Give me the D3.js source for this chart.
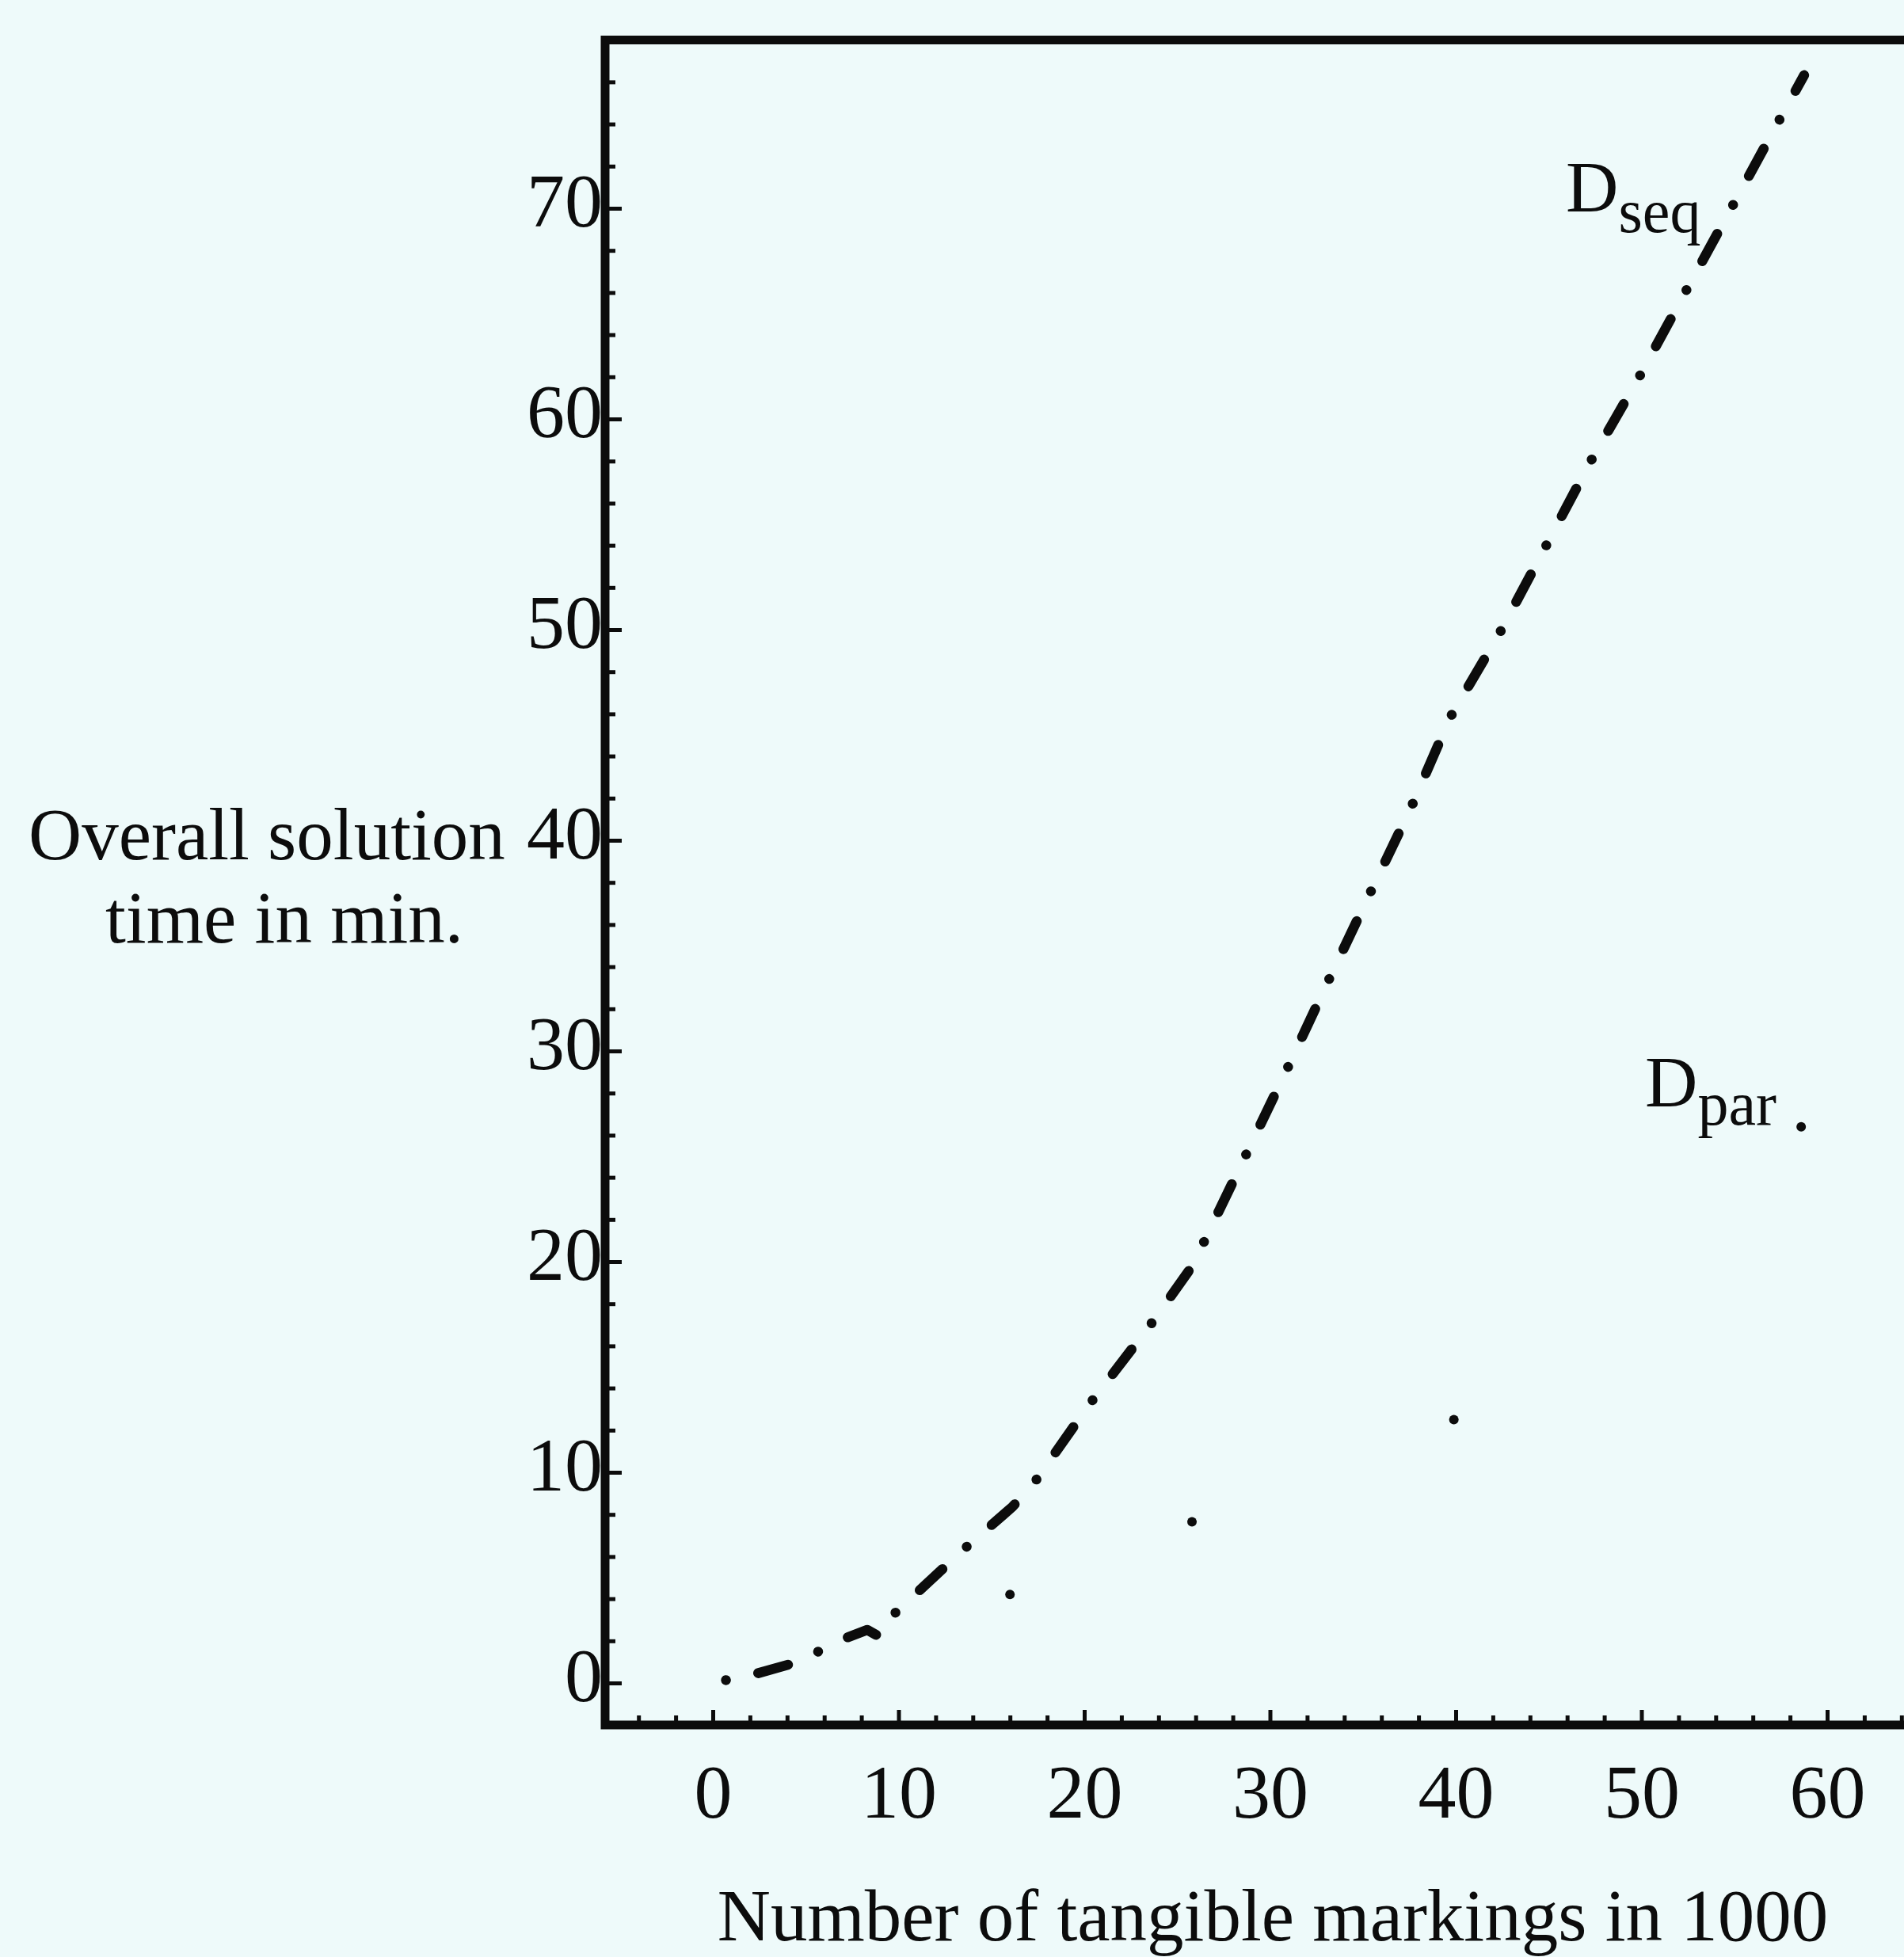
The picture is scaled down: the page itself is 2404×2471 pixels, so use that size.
<!DOCTYPE html>
<html><head><meta charset="utf-8">
<script src="https://cdn.jsdelivr.net/npm/d3@7"></script>
<style>
html,body{margin:0;padding:0;background:#eefafa;}
svg{display:block;}
text{font-family:"Liberation Serif","Times New Roman",serif;fill:#0c0c0c;}
</style></head><body>
<svg id="c" width="2404" height="2471"></svg>
<script>
// ---- data ----
const xTickLabels = [0, 10, 20, 30, 40, 50, 60];
const yTickLabels = [0, 10, 20, 30, 40, 50, 60, 70];
const xMinorTicks = d3.range(-4, 66, 2);
const yMinorTicks = d3.range(0, 78, 2);
const seqX = [-0.55, 0.04, 1.62, 4.78, 6.61, 8.32, 8.98, 9.75, 13.67, 16.12, 17.34, 20.28, 23.62, 25.98, 26.4, 28.65, 30.92, 33.05, 35.35, 37.6, 39.7, 42.36, 44.85, 47.26, 49.89, 52.38, 54.94, 57.43, 58.76];
const seqY = [0.30, 0.04, 0.26, 1.05, 1.95, 2.52, 2.19, 3.27, 6.47, 8.35, 9.55, 13.23, 17.07, 20.0, 20.85, 24.97, 29.14, 33.16, 37.42, 41.56, 45.83, 49.83, 53.96, 57.98, 62.01, 66.05, 70.17, 74.2, 76.32];
const parX = [16.0, 25.8, 39.9, 58.6];
const parY = [4.2, 7.65, 12.5, 26.4];
const xTitle = "Number of tangible markings in 1000";
const yTitle = ["Overall solution", "time in min."];
const seqLabel = ["D", "seq"];
const parLabel = ["D", "par"];

// ---- layout ----
const svg = d3.select("#c");
const frame = {left: 764, top: 50.5, bottom: 2178, right: 2440};
const x = d3.scaleLinear().domain([0, 60]).range([900, 900 + 60 * 23.45]);
const y = d3.scaleLinear().domain([0, 70]).range([2125, 2125 - 70 * 26.6]);
const ink = "#0c0c0c";

// x axis ticks (inward, pointing up)
const gx = svg.append("g").attr("transform", `translate(0,${frame.bottom})`);
gx.call(d3.axisBottom(x).tickValues(xMinorTicks.filter(v => v % 10 !== 0)).tickSize(-12).tickFormat(""));
const gx2 = svg.append("g").attr("transform", `translate(0,${frame.bottom})`);
gx2.call(d3.axisBottom(x).tickValues(xTickLabels).tickSize(-19).tickPadding(0));
[gx, gx2].forEach(g => {
  g.select(".domain").remove();
  g.selectAll(".tick line").attr("stroke", ink).attr("stroke-width", 5);
});
gx2.selectAll(".tick text")
  .attr("y", 2295 - frame.bottom).attr("dy", null)
  .style("font-family", '"Liberation Serif","Times New Roman",serif')
  .style("font-size", "96px").attr("fill", ink);

// y axis ticks (inward, pointing right)
const gy = svg.append("g").attr("transform", `translate(${frame.left},0)`);
gy.call(d3.axisLeft(y).tickValues(yMinorTicks.filter(v => v % 10 !== 0)).tickSize(-13).tickFormat(""));
const gy2 = svg.append("g").attr("transform", `translate(${frame.left},0)`);
gy2.call(d3.axisLeft(y).tickValues(yTickLabels).tickSize(-21).tickPadding(0));
[gy, gy2].forEach(g => {
  g.select(".domain").remove();
  g.selectAll(".tick line").attr("stroke", ink).attr("stroke-width", 5);
});
gy2.selectAll(".tick text")
  .attr("x", -3).attr("dy", null).attr("y", 22)
  .style("font-family", '"Liberation Serif","Times New Roman",serif')
  .style("font-size", "96px").attr("fill", ink);

// frame
svg.append("path")
  .attr("d", `M${frame.right},${frame.top}H${frame.left}V${frame.bottom}H${frame.right}`)
  .attr("fill", "none").attr("stroke", ink).attr("stroke-width", 11)
  .attr("stroke-linejoin", "miter");

// titles
svg.append("text").attr("x", 1607).attr("y", 2450).attr("text-anchor", "middle")
  .style("font-size", "93px").text(xTitle);
svg.append("text").attr("x", 36).attr("y", 1085).style("font-size", "93px").text(yTitle[0]);
svg.append("text").attr("x", 133).attr("y", 1190).style("font-size", "93px").text(yTitle[1]);

// D_seq curve
const seqPts = seqX.map((v, i) => [x(v), y(seqY[i])]);
const cum = [0];
for (let i = 1; i < seqPts.length; i++) {
  cum.push(cum[i - 1] + Math.hypot(seqPts[i][0] - seqPts[i - 1][0], seqPts[i][1] - seqPts[i - 1][1]));
}
const ia = 8, ib = 27; // two dots of the dash-dot pattern
const span = cum[ib] - cum[ia];
const n = Math.round(span / 122);
const P = span / n;
const dash = 0.32 * P, gap = (P - dash) / 2;
const offset = dash + gap - cum[ia];
svg.append("path")
  .datum(seqPts)
  .attr("d", d3.line())
  .attr("fill", "none").attr("stroke", ink).attr("stroke-width", 12.5)
  .attr("stroke-linecap", "round").attr("stroke-linejoin", "round")
  .attr("stroke-dasharray", `${dash} ${gap} 0.01 ${gap}`)
  .attr("stroke-dashoffset", offset);

// D_par points
svg.selectAll("circle.par").data(parX.map((v, i) => [v, parY[i]])).enter()
  .append("circle").attr("class", "par")
  .attr("cx", d => x(d[0])).attr("cy", d => y(d[1])).attr("r", 6).attr("fill", ink);

// labels
function sub(lbl, xp, yp, dyS) {
  const t = svg.append("text").attr("x", xp).attr("y", yp).style("font-size", "92px");
  t.append("tspan").text(lbl[0]);
  t.append("tspan").attr("dy", dyS).style("font-size", "78px").text(lbl[1]);
}
sub(seqLabel, 1977, 267, 26);
sub(parLabel, 2077, 1397, 23);
</script>
</body></html>
